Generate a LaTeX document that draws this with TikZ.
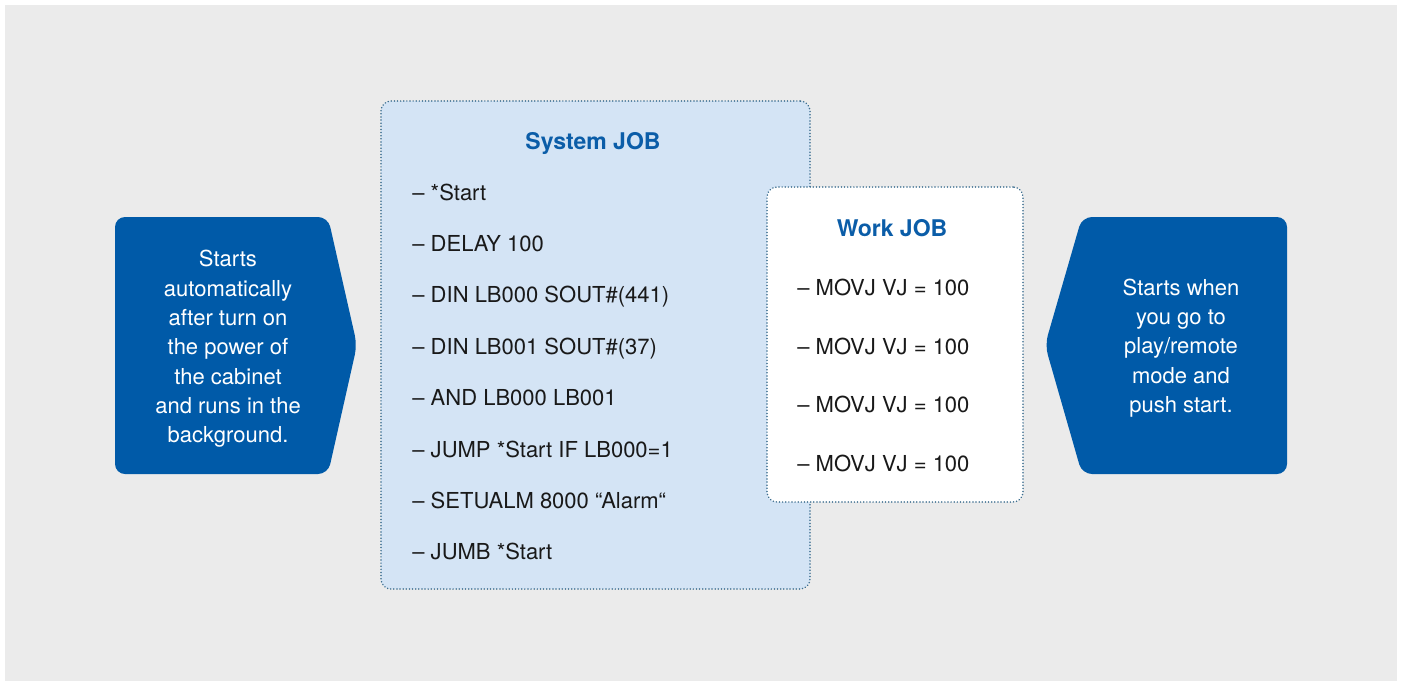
\documentclass[tikz,border=0pt]{standalone}
\usepackage{fontspec}
\setmainfont{TeX Gyre Heros}
\usetikzlibrary{positioning}
\definecolor{bggray}{HTML}{EBEBEB}
\definecolor{darkblue}{HTML}{005AA8}
\definecolor{titleblue}{HTML}{0B5DA8}
\definecolor{softblue}{HTML}{D4E4F5}
\definecolor{dotblue}{HTML}{3E6F90}

\begin{document}
\begin{tikzpicture}[x=0.5pt, y=-0.5pt,
  every node/.style={font=\fontsize{11}{14.65}\selectfont},
  jobbox/.style={draw=dotblue, line width=0.85pt, dash pattern=on 0.01pt off 1.55pt, line cap=round, rounded corners=5pt, inner sep=0pt},
  jobtitle/.style={font=\fontsize{11.5}{14}\selectfont\bfseries, text=titleblue, anchor=base},
  jobline/.style={anchor=base west, inner sep=0pt, text=black!90},
  startshape/.style={fill=darkblue, rounded corners=5pt},
  startnote/.style={text=white, align=center}]
  \useasboundingbox (0,0) rectangle (1401,681);
  \fill[bggray] (5,5) rectangle (1397,681);

  % left and right start shapes
  \fill[startshape] (115,217) -- (328,217) -- (357,345) -- (328,474) -- (115,474) -- cycle;
  \node[startnote] (leftnote) at (228,349) {Starts\\automatically\\after turn on\\the power of\\the cabinet\\and runs in the\\background.};
  \fill[startshape] (1287,217) -- (1082,217) -- (1045,345) -- (1082,474) -- (1287,474) -- cycle;
  \node[startnote] (rightnote) at (1181,348) {Starts when\\you go to\\play/remote\\mode and\\push start.};

  % system job
  \node[jobbox, fill=softblue, minimum width=214.5pt, minimum height=244pt] (sysbox) at (595.5,345) {};
  \node[jobtitle] (systitle) at (593,149) {System JOB};
  \foreach \txt [count=\i from 0] in {{– *Start}, {– DELAY 100}, {– DIN LB000 SOUT\#(441)}, {– DIN LB001 SOUT\#(37)}, {– AND LB000 LB001}, {– JUMP *Start IF LB000=1}, {– SETUALM 8000 “Alarm“}, {– JUMB *Start}}
    \node[jobline] (sys\i) at (412,200+51.4*\i) {\txt};

  % work job
  \node[jobbox, fill=white, minimum width=128pt, minimum height=157.5pt] (workbox) at (895,344.5) {};
  \node[jobtitle] (worktitle) at (892,236) {Work JOB};
  \foreach \i in {0,...,3}
    \node[jobline] (work\i) at (797,295.5+58.7*\i) {– MOVJ VJ = 100};
\end{tikzpicture}
\end{document}
